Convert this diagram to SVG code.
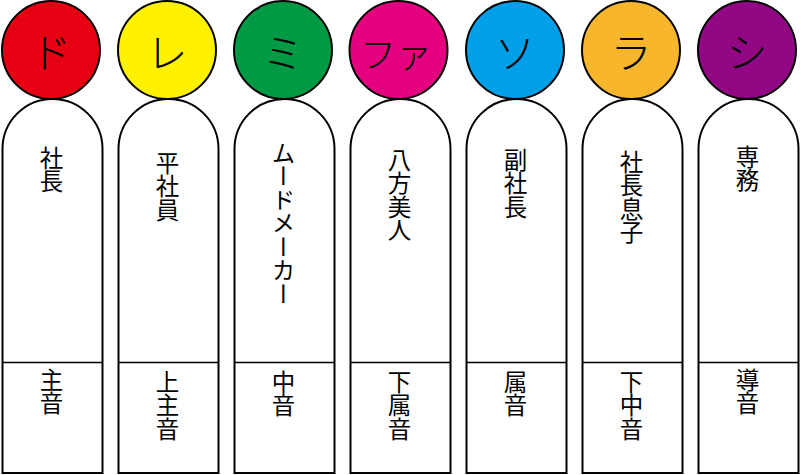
<svg xmlns="http://www.w3.org/2000/svg" width="801" height="475" viewBox="0 0 801 475">
<style>
.c{stroke:#000;stroke-width:2}
.b{fill:#fff;stroke:#000;stroke-width:2}
.d{stroke:#000;stroke-width:1.5}
.n{font-family:"Noto Sans CJK JP","Noto Sans",sans-serif;font-size:41px;font-weight:300;fill:#000;text-anchor:middle;dominant-baseline:central}
.v{font-family:"Noto Sans CJK JP","Noto Sans",sans-serif;font-size:23.5px;fill:#000;writing-mode:vertical-rl}
</style>
<rect width="801" height="475" fill="#fff"/>
<g id="do">
<path class="b" d="M2.5,473V149A50,50 0 0 1 102.5,149V473Z"/>
<line class="d" x1="2.5" y1="362.5" x2="102.5" y2="362.5"/>
<circle class="c" cx="51" cy="50" r="49" fill="#E60012"/>
<text class="n" x="51" y="50">ド</text>
<text class="v" x="51.5" y="146">社長</text>
<text class="v" x="51.5" y="368">主音</text>
</g>
<g id="re">
<path class="b" d="M118.5,473V149A50,50 0 0 1 218.5,149V473Z"/>
<line class="d" x1="118.5" y1="362.5" x2="218.5" y2="362.5"/>
<circle class="c" cx="167" cy="50" r="49" fill="#FFF100"/>
<text class="n" x="167" y="50">レ</text>
<text class="v" x="167.5" y="151">平社員</text>
<text class="v" x="167.5" y="370">上主音</text>
</g>
<g id="mi">
<path class="b" d="M234.5,473V149A50,50 0 0 1 334.5,149V473Z"/>
<line class="d" x1="234.5" y1="362.5" x2="334.5" y2="362.5"/>
<circle class="c" cx="283" cy="50" r="49" fill="#009944"/>
<text class="n" x="283" y="50">ミ</text>
<text class="v" x="283.5" y="141">ムードメーカー</text>
<text class="v" x="283.5" y="370">中音</text>
</g>
<g id="fa">
<path class="b" d="M350.5,473V149A50,50 0 0 1 450.5,149V473Z"/>
<line class="d" x1="350.5" y1="362.5" x2="450.5" y2="362.5"/>
<circle class="c" cx="398.5" cy="50" r="49" fill="#E4007F"/>
<text class="n" x="396" y="52" style="font-size:36px">ファ</text>
<text class="v" x="399.5" y="148">八方美人</text>
<text class="v" x="399.5" y="370">下属音</text>
</g>
<g id="so">
<path class="b" d="M466.5,473V149A50,50 0 0 1 566.5,149V473Z"/>
<line class="d" x1="466.5" y1="362.5" x2="566.5" y2="362.5"/>
<circle class="c" cx="515" cy="50" r="49" fill="#00A0E9"/>
<text class="n" x="515" y="50">ソ</text>
<text class="v" x="515.5" y="148">副社長</text>
<text class="v" x="515.5" y="370">属音</text>
</g>
<g id="ra">
<path class="b" d="M582.5,473V149A50,50 0 0 1 682.5,149V473Z"/>
<line class="d" x1="582.5" y1="362.5" x2="682.5" y2="362.5"/>
<circle class="c" cx="631" cy="50" r="49" fill="#F8B62D"/>
<text class="n" x="631" y="50">ラ</text>
<text class="v" x="631.5" y="150">社長息子</text>
<text class="v" x="631.5" y="370">下中音</text>
</g>
<g id="si">
<path class="b" d="M698.5,473V149A50,50 0 0 1 798.5,149V473Z"/>
<line class="d" x1="698.5" y1="362.5" x2="798.5" y2="362.5"/>
<circle class="c" cx="747" cy="50" r="49" fill="#920783"/>
<text class="n" x="747" y="50">シ</text>
<text class="v" x="747.5" y="145">専務</text>
<text class="v" x="747.5" y="368">導音</text>
</g>
<g id="connectors"></g>
</svg>
